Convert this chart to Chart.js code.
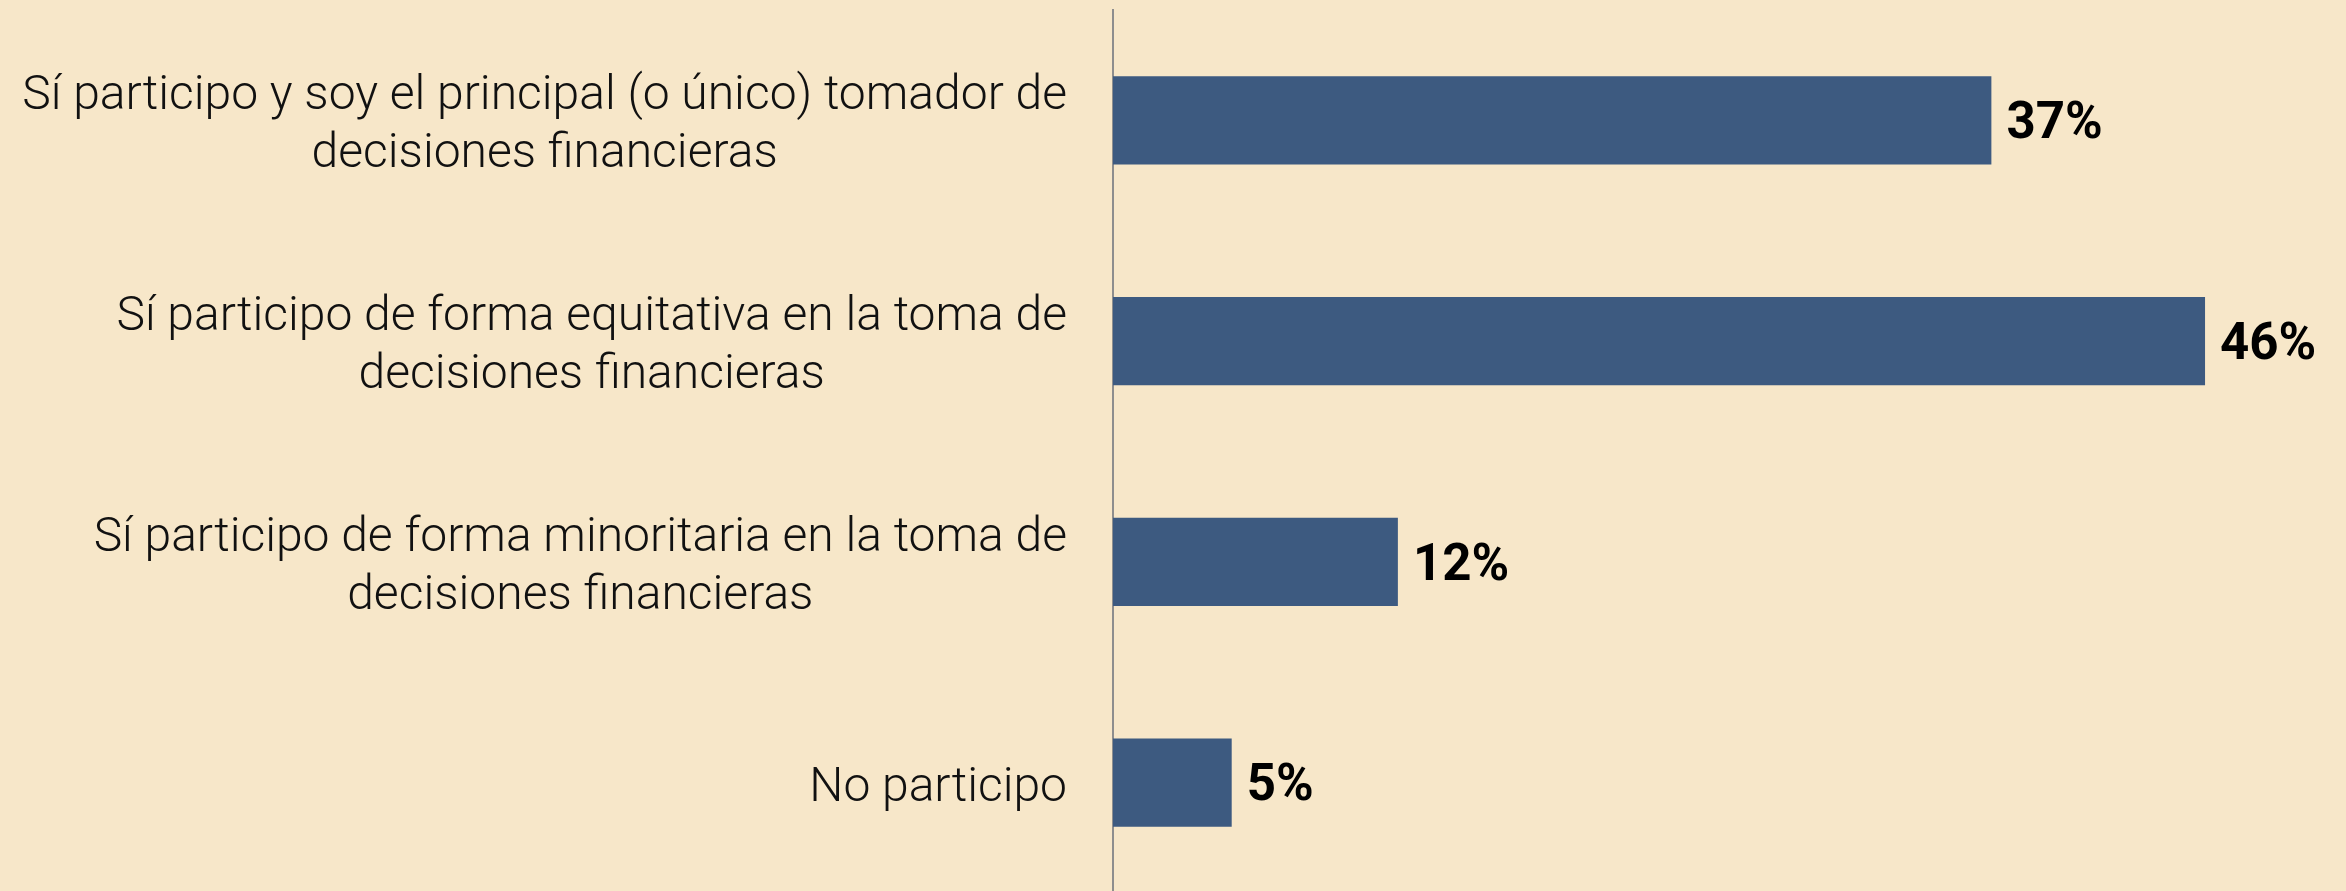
<!DOCTYPE html>
<html lang="es">
<head>
<meta charset="utf-8">
<title>Participación en decisiones financieras</title>
<script src="https://cdn.jsdelivr.net/npm/chart.js@4"></script>
<style>
  html, body { margin: 0; padding: 0; background: #f7e7c9; overflow: hidden; }
  #wrap { position: relative; width: 2346px; height: 893px; }
</style>
</head>
<body>
<div id="wrap"><canvas id="grafico"></canvas></div>
<script>
// Datos del gráfico
const categorias = [
  ["Sí participo y soy el principal (o único) tomador de", "decisiones financieras"],
  ["Sí participo de forma equitativa en la toma de", "decisiones financieras"],
  ["Sí participo de forma minoritaria en la toma de", "decisiones financieras"],
  ["No participo"],
];
const porcentajes = [37, 46, 12, 5];

const colorBarra = "#3d5a80";
const colorEje = "#8e8e8e";

// Etiquetas de categoría: bloque alineado a la derecha, líneas centradas entre sí
const etiquetasEje = {
  id: "etiquetasEje",
  afterDraw(chart) {
    const ctx = chart.ctx;
    const y = chart.scales.y;
    const derecha = chart.chartArea.left - 46;
    const alto = 58;
    ctx.save();
    ctx.font = "300 48px Roboto";
    ctx.fillStyle = "#111";
    ctx.textAlign = "center";
    ctx.textBaseline = "middle";
    chart.data.labels.forEach((lineas, i) => {
      const ancho = Math.max(...lineas.map((l) => ctx.measureText(l).width));
      const cx = derecha - ancho / 2;
      const cy = y.getPixelForTick(i);
      lineas.forEach((l, j) => {
        ctx.fillText(l, cx, cy + (j - (lineas.length - 1) / 2) * alto + 6);
      });
    });
    ctx.restore();
  },
};

// Valores al final de cada barra
const valoresBarras = {
  id: "valoresBarras",
  afterDatasetsDraw(chart) {
    const ctx = chart.ctx;
    const meta = chart.getDatasetMeta(0);
    ctx.save();
    ctx.font = "bold 51px Roboto";
    ctx.fillStyle = "#000";
    ctx.textAlign = "left";
    ctx.textBaseline = "middle";
    meta.data.forEach((barra, i) => {
      ctx.fillText(porcentajes[i] + "%", barra.x + 15, barra.y + 5);
    });
    ctx.restore();
  },
};

new Chart(document.getElementById("grafico"), {
  type: "bar",
  data: {
    labels: categorias,
    datasets: [
      {
        data: porcentajes,
        backgroundColor: colorBarra,
        borderWidth: 0,
        categoryPercentage: 1,
        barPercentage: 0.4,
      },
    ],
  },
  options: {
    indexAxis: "y",
    responsive: true,
    maintainAspectRatio: false,
    animation: false,
    layout: { padding: { top: 10, right: 46, bottom: 0, left: 0 } },
    plugins: {
      legend: { display: false },
      tooltip: { enabled: false },
    },
    scales: {
      x: {
        display: false,
        min: 0,
        max: 50,
      },
      y: {
        grid: { display: false, drawTicks: false },
        border: { display: true, color: colorEje, width: 2 },
        ticks: { display: false },
        afterFit(scale) {
          scale.width = 1113;
        },
      },
    },
  },
  plugins: [etiquetasEje, valoresBarras],
});
</script>
</body>
</html>
